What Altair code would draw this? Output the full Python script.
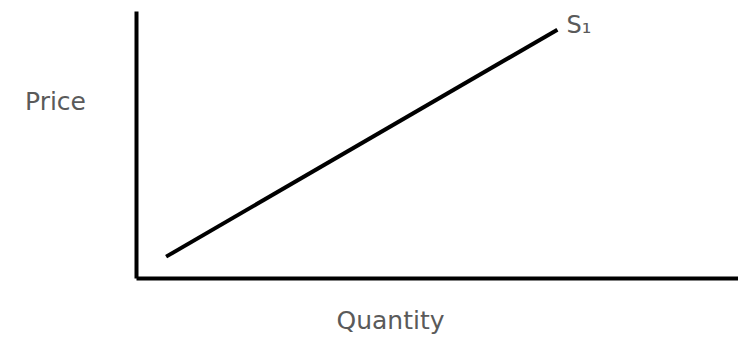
import altair as alt
import pandas as pd

# Supply curve S1 (two endpoints of a straight line)
quantity = [0.5, 7.0]
price = [0.8, 9.3]
curve_label = ["", "S₁"]

df = pd.DataFrame({"Quantity": quantity, "Price": price, "label": curve_label})

FONT = "DejaVu Sans"
TXT = "#5a5a5a"

x_scale = alt.Scale(domain=[0, 10], nice=False, zero=False)
y_scale = alt.Scale(domain=[0, 10], nice=False, zero=False)

x_enc = alt.X(
    "Quantity:Q",
    scale=x_scale,
    axis=alt.Axis(
        title="Quantity", ticks=False, labels=False, grid=False,
        domainColor="black", domainWidth=4,
        titleAngle=0, titleX=254, titleY=50, titleAlign="center",
        titleBaseline="alphabetic", titleFont=FONT, titleFontSize=25,
        titleFontWeight="normal", titleColor=TXT,
    ),
)
y_enc = alt.Y(
    "Price:Q",
    scale=y_scale,
    axis=alt.Axis(
        title="Price", ticks=False, labels=False, grid=False,
        domainColor="black", domainWidth=4,
        titleAngle=0, titleX=-81, titleY=90, titleAlign="center",
        titleBaseline="middle", titleFont=FONT, titleFontSize=25,
        titleFontWeight="normal", titleColor=TXT,
    ),
)

line = alt.Chart(df).mark_line(color="black", strokeWidth=4).encode(x=x_enc, y=y_enc)

label = alt.Chart(df).mark_text(
    align="left", baseline="middle", dx=9, dy=-4,
    font=FONT, fontSize=24, color=TXT,
).encode(
    x=x_enc,
    y=y_enc,
    text="label:N",
)

chart = alt.layer(line, label).properties(
    width=602,
    height=267,
    padding={"left": 128, "top": 3, "right": 0, "bottom": 58},
    autosize=alt.AutoSizeParams(type="none"),
).configure_view(stroke=None)

chart.save("out.html", embed_options={"renderer": "svg", "actions": False})
